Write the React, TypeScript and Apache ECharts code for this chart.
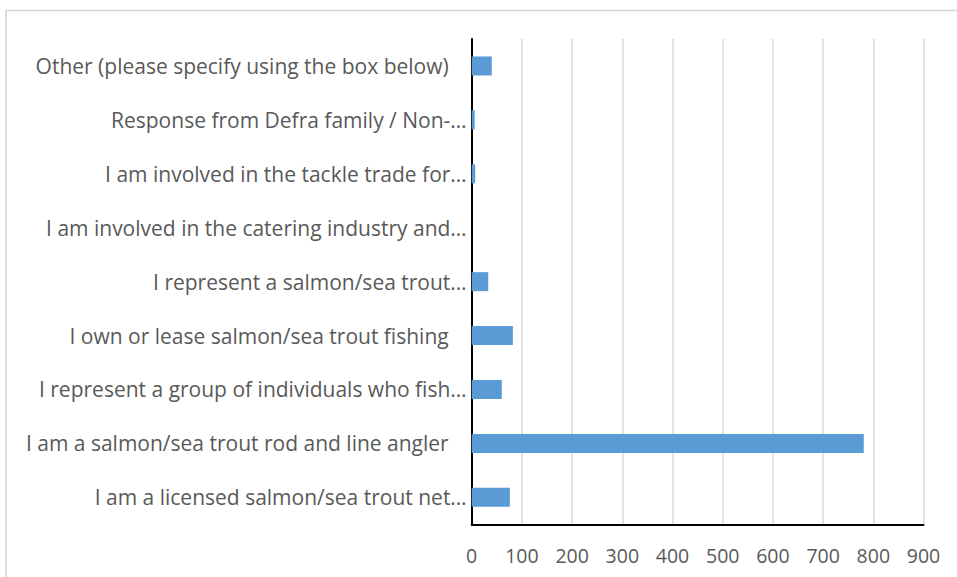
import React, { useEffect, useRef } from "react";
import * as echarts from "echarts";

const categories = [
  "I am a licensed salmon/sea trout net…",
  "I am a salmon/sea trout rod and line angler ",
  "I represent a group of individuals who fish…",
  "I own or lease salmon/sea trout fishing ",
  "I represent a salmon/sea trout…",
  "I am involved in the catering industry and…",
  "I am involved in the tackle trade for…",
  "Response from Defra family / Non-…",
  "Other (please specify using the box below) ",
];

const values = [76, 781, 60, 82, 33, 0, 7, 6, 40];

const xTicks = { min: 0, max: 900, interval: 100 };

const FONT = "Open Sans";
const LABEL_SIZE = 21;

export default function App() {
  const ref = useRef<HTMLDivElement>(null);
  useEffect(() => {
    if (!ref.current) return;
    const chart = echarts.init(ref.current, null, { renderer: "svg" });
    chart.setOption({
      animation: false,
      backgroundColor: "#ffffff",
      textStyle: { fontFamily: FONT },
      graphic: [
        {
          type: "rect",
          shape: { x: 6, y: 10.5, width: 1000, height: 700 },
          style: { fill: "none", stroke: "#d4d4d4", lineWidth: 1.5 },
          silent: true,
        },
      ],
      grid: { left: 471.7, right: 33.5, top: 39, bottom: 52.7, containLabel: false },
      xAxis: {
        type: "value",
        min: xTicks.min,
        max: xTicks.max,
        interval: xTicks.interval,
        axisLine: { show: true, lineStyle: { color: "#000000", width: 2 } },
        axisTick: { show: false },
        splitLine: { show: true, lineStyle: { color: "#d9d9d9", width: 1.5 } },
        axisLabel: { color: "#595959", fontSize: 19.5, margin: 21, fontFamily: FONT },
      },
      yAxis: {
        type: "category",
        data: categories,
        axisLine: { show: true, lineStyle: { color: "#000000", width: 2 } },
        axisTick: { show: false },
        splitLine: { show: false },
        axisLabel: {
          color: "#595959",
          fontSize: LABEL_SIZE,
          margin: 5,
          fontFamily: FONT,
          formatter: (v: string) =>
            v.endsWith(" ") ? `{p|${v.trimEnd()}}` : `{n|${v}}`,
          rich: {
            p: { color: "#595959", fontSize: LABEL_SIZE, fontFamily: FONT, padding: [0, 18, 0, 0] },
            n: { color: "#595959", fontSize: LABEL_SIZE, fontFamily: FONT },
          },
        },
      },
      series: [
        {
          type: "bar",
          data: values,
          barWidth: 19,
          itemStyle: { color: "#5b9bd5" },
        },
      ],
    });
    return () => chart.dispose();
  }, []);
  return (
    <div
      ref={ref}
      style={{ position: "fixed", left: 0, top: 0, width: 957, height: 577 }}
    />
  );
}
